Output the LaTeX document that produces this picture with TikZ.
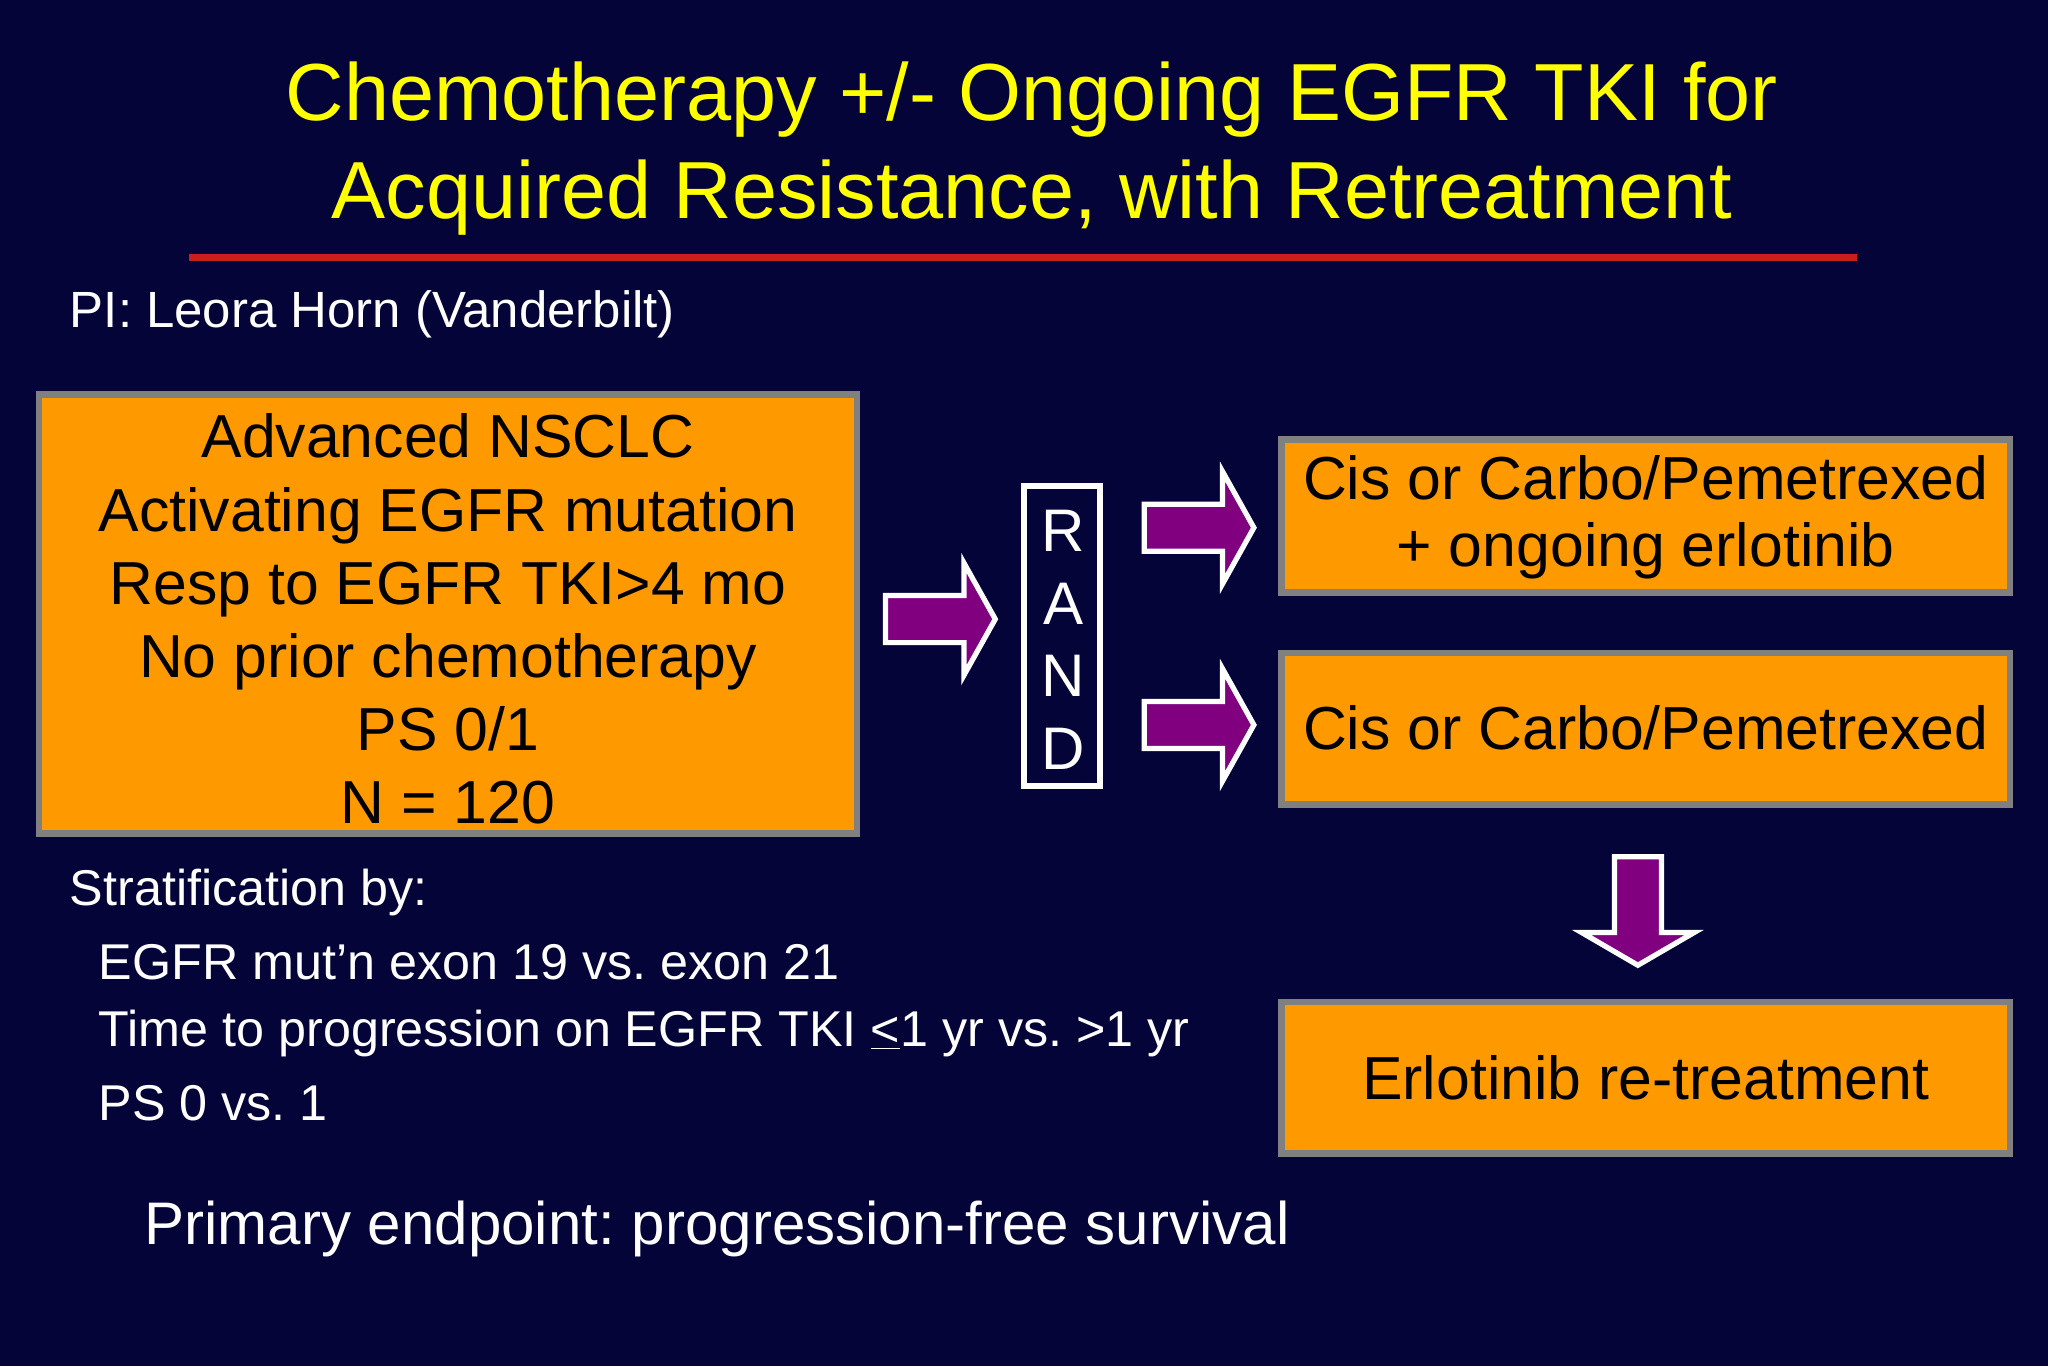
\documentclass[tikz,border=0pt]{standalone}
\usepackage{fontspec}
\setmainfont{Liberation Sans}
\frenchspacing
\definecolor{bg}{RGB}{4,4,56}
\definecolor{ttl}{RGB}{255,255,0}
\definecolor{org}{RGB}{255,153,0}
\definecolor{bord}{RGB}{128,128,128}
\definecolor{purp}{RGB}{128,0,128}
\definecolor{redl}{RGB}{200,30,30}
\tikzset{
 obox/.style={draw=bord,line width=5pt,fill=org,inner sep=0pt},
 btxt/.style={font=\fontsize{46.5}{56}\selectfont,text=black,align=center},
 wtxt/.style={font=\fontsize{38.5}{54}\selectfont,text=white,anchor=west},
 barrow/.style={fill=purp,draw=white,line width=4pt,line join=miter},
}
\newcommand{\harrow}[2]{% x0, yc
 \draw[barrow] (#1,#2-18) -- (#1+60,#2-18) -- (#1+60,#2-43) -- (#1+84,#2) -- (#1+60,#2+43) -- (#1+60,#2+18) -- (#1,#2+18) -- cycle;}
\begin{document}
\begin{tikzpicture}[x=1pt,y=-1pt]
\fill[bg] (0,0) rectangle (1568,1046);
\useasboundingbox (0,0) rectangle (1568,1046);
\node[font=\fontsize{62}{75}\selectfont,text=ttl,align=center] (title) at (790,114) {Chemotherapy +/- Ongoing EGFR TKI for\\Acquired Resistance, with Retreatment};
\draw[redl,line width=5pt] (145,197) -- (1422,197);
\node[wtxt,font=\fontsize{39}{54}\selectfont] (pi) at (50,241) {PI: Leora Horn (Vanderbilt)};
\node[obox,minimum width=626pt,minimum height=336pt] (left) at (343,470) {};
\node[btxt] at (343,474) {Advanced NSCLC\\Activating EGFR mutation\\Resp to EGFR TKI>4 mo\\No prior chemotherapy\\PS 0/1\\N = 120};
\harrow{678}{474}
\node[draw=white,line width=4.5pt,fill=bg,minimum width=58pt,minimum height=230pt] (rand) at (813,487) {};
\node[font=\fontsize{46}{55.5}\selectfont,text=white,align=center] at (814,490) {R\\A\\N\\D};
\harrow{876}{404}
\harrow{876}{555}
\node[obox,minimum width=558pt,minimum height=117pt] (b1) at (1260,395) {};
\node[btxt,font=\fontsize{46.5}{51}\selectfont] at (1260,396) {Cis or Carbo/Pemetrexed\\+ ongoing erlotinib};
\node[obox,minimum width=558pt,minimum height=116pt] (b2) at (1260,558) {};
\node[btxt] at (1260,557) {Cis or Carbo/Pemetrexed};
\draw[barrow] (1236,656) -- (1272,656) -- (1272,714) -- (1297,714) -- (1254,739) -- (1211,714) -- (1236,714) -- cycle;
\node[obox,minimum width=558pt,minimum height=116pt] (b3) at (1260,825) {};
\node[btxt] at (1260,825) {Erlotinib re-treatment};
\node[wtxt] (s0) at (50,683) {Stratification by:};
\node[wtxt] (s1) at (72,737) {EGFR mut’n exon 19 vs. exon 21};
\node[wtxt] (s2) at (72,791) {Time to progression on EGFR TKI \underline{<}1 yr vs. >1 yr};
\node[wtxt] (s3) at (72,845) {PS 0 vs. 1};
\node[wtxt,font=\fontsize{46}{54}\selectfont] (pe) at (107,941) {Primary endpoint: progression-free survival};
\end{tikzpicture}
\end{document}
